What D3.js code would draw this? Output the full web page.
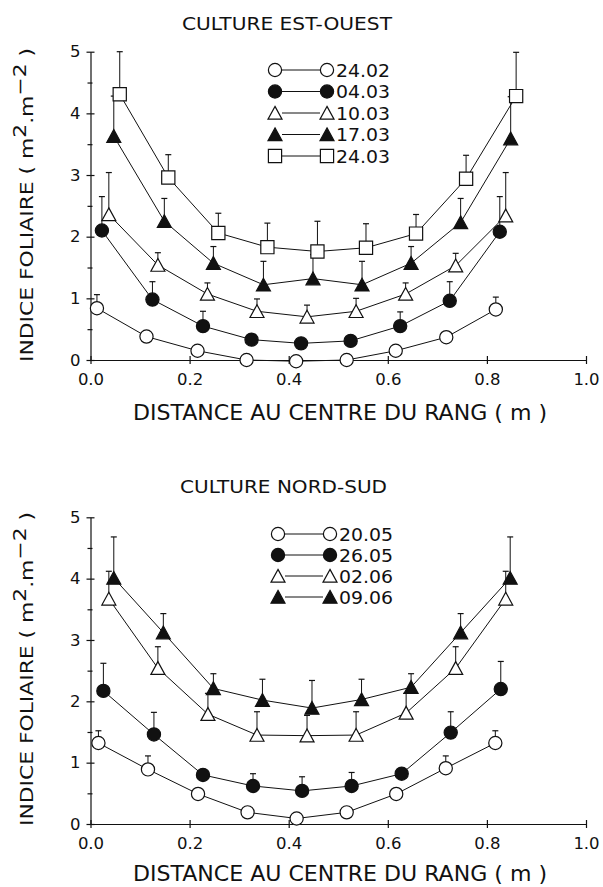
<!DOCTYPE html>
<html>
<head>
<meta charset="utf-8">
<script src="https://cdn.jsdelivr.net/npm/d3@7"></script>
<style>
  body { margin: 0; background: #fff; }
  text { font-family: "DejaVu Sans", sans-serif; fill: #111; }
</style>
</head>
<body>
<div id="chart"></div>
<script>
// Axis ticks
const xTicks = [0, 0.2, 0.4, 0.6, 0.8, 1.0]
const yTicks = [0, 1, 2, 3, 4, 5]
const yMinor = [0.5, 1.5, 2.5, 3.5, 4.5]

// Culture est-ouest: distance (m), leaf area index, error bar length
const eoTitle = 'CULTURE EST-OUEST'
const eoDates = ['24.02', '04.03', '10.03', '17.03', '24.03']
const eoDist = [
  [0.013, 0.113, 0.216, 0.315, 0.415, 0.517, 0.616, 0.718, 0.818],
  [0.023, 0.125, 0.227, 0.325, 0.425, 0.525, 0.625, 0.725, 0.826],
  [0.037, 0.136, 0.236, 0.336, 0.437, 0.536, 0.636, 0.737, 0.838],
  [0.047, 0.149, 0.248, 0.349, 0.449, 0.548, 0.647, 0.747, 0.848],
  [0.059, 0.157, 0.258, 0.357, 0.458, 0.556, 0.657, 0.758, 0.859]
]
const eoLai = [
  [0.84, 0.38, 0.15, 0.0, -0.02, 0.0, 0.15, 0.37, 0.82],
  [2.10, 0.98, 0.55, 0.33, 0.27, 0.31, 0.55, 0.96, 2.08],
  [2.36, 1.54, 1.07, 0.79, 0.70, 0.79, 1.07, 1.53, 2.34],
  [3.63, 2.25, 1.57, 1.22, 1.32, 1.22, 1.57, 2.23, 3.59],
  [4.31, 2.96, 2.06, 1.83, 1.76, 1.82, 2.05, 2.94, 4.28]
]
const eoErr = [
  [0.22, 0, 0, 0, 0, 0, 0, 0, 0.20],
  [0.55, 0.29, 0.24, 0, 0, 0, 0.23, 0.31, 0.57],
  [0.68, 0.20, 0.18, 0.20, 0.19, 0.21, 0.18, 0.20, 0.70],
  [0.65, 0.37, 0.27, 0.38, 0.39, 0.38, 0.27, 0.39, 0.68],
  [0.69, 0.37, 0.32, 0.39, 0.49, 0.39, 0.31, 0.38, 0.71]
]

// Culture nord-sud
const nsTitle = 'CULTURE NORD-SUD'
const nsDates = ['20.05', '26.05', '02.06', '09.06']
const nsDist = [
  [0.016, 0.116, 0.217, 0.317, 0.416, 0.517, 0.617, 0.717, 0.817],
  [0.026, 0.128, 0.227, 0.328, 0.427, 0.527, 0.628, 0.727, 0.828],
  [0.037, 0.136, 0.237, 0.336, 0.437, 0.536, 0.637, 0.737, 0.838],
  [0.047, 0.147, 0.248, 0.347, 0.447, 0.547, 0.647, 0.747, 0.847]
]
const nsLai = [
  [1.32, 0.89, 0.49, 0.19, 0.09, 0.19, 0.49, 0.91, 1.32],
  [2.17, 1.46, 0.80, 0.62, 0.54, 0.62, 0.82, 1.49, 2.20],
  [3.67, 2.54, 1.79, 1.45, 1.44, 1.45, 1.81, 2.54, 3.67],
  [4.01, 3.12, 2.21, 2.02, 1.89, 2.03, 2.23, 3.12, 4.01]
]
const nsErr = [
  [0.20, 0.22, 0, 0, 0, 0, 0, 0.20, 0.20],
  [0.45, 0.36, 0, 0.20, 0.23, 0.22, 0, 0.34, 0.45],
  [0.45, 0.35, 0.34, 0.38, 0.33, 0.38, 0.32, 0.35, 0.45],
  [0.67, 0.31, 0.24, 0.34, 0.45, 0.33, 0.22, 0.31, 0.67]
]

const xTitle = 'DISTANCE AU CENTRE DU RANG ( m )'

// Marker kinds, in series order
const kinds = ['circle-open', 'circle-fill', 'tri-open', 'tri-fill', 'square-open']

const svg = d3.select('#chart').append('svg')
  .attr('width', 603)
  .attr('height', 887)

const x = d3.scaleLinear().domain([0, 1]).range([90.5, 586])

function markerPath(kind) {
  if (kind.startsWith('circle')) return d3.symbol(d3.symbolCircle, Math.PI * 6.6 * 6.6)()
  if (kind.startsWith('tri')) return 'M0,-6.6L7,6.2L-7,6.2Z'
  return 'M-6.6,-6.6h13.2v13.2h-13.2Z'
}

function addMarker(g, kind, cx, cy) {
  g.append('path')
    .attr('d', markerPath(kind))
    .attr('transform', `translate(${cx},${cy})`)
    .attr('fill', kind.endsWith('fill') ? '#111' : '#fff')
    .attr('stroke', '#111')
    .attr('stroke-width', 1.2)
}

function drawPanel(p) {
  const y = d3.scaleLinear().domain([0, 5]).range([p.bottom, p.top])
  const g = svg.append('g')

  // title
  g.append('text')
    .attr('x', p.titleX).attr('y', p.titleY)
    .attr('font-size', 18)
    .attr('textLength', p.titleLen)
    .attr('lengthAdjust', 'spacingAndGlyphs')
    .text(p.title)

  // axes
  const xAxis = g.append('g')
    .attr('transform', `translate(0,${p.bottom})`)
    .call(d3.axisBottom(x).tickValues(xTicks).tickFormat(d3.format('.1f')).tickSize(4).tickSizeOuter(0))
  xAxis.selectAll('.tick line').attr('y1', -4)
  xAxis.selectAll('.tick text').attr('y', 25).attr('dy', 0)

  const yAxis = g.append('g')
    .attr('transform', `translate(${x(0)},0)`)
    .call(d3.axisLeft(y).tickValues(yTicks).tickFormat(d3.format('d')).tickSize(4).tickSizeOuter(0))
  yAxis.selectAll('.tick line').attr('x1', 4)
  yAxis.selectAll('.tick text').attr('x', -10)

  const yMin = g.append('g')
    .attr('transform', `translate(${x(0)},0)`)
    .call(d3.axisLeft(y).tickValues(yMinor).tickSize(3).tickFormat(''))
  yMin.select('.domain').remove()
  yMin.selectAll('.tick line').attr('x1', 2)

  g.selectAll('.domain, .tick line').attr('stroke', '#111').attr('stroke-width', 1.2)
  g.selectAll('.tick text')
    .attr('font-size', 16.5)
    .attr('font-family', '"DejaVu Sans", sans-serif')
    .attr('fill', '#111')

  // axis titles
  g.append('text')
    .attr('x', 133).attr('y', p.bottom + p.xTitleGap)
    .attr('font-size', 21)
    .attr('textLength', 414)
    .attr('lengthAdjust', 'spacingAndGlyphs')
    .text(xTitle)

  const yt = g.append('text')
    .attr('transform', `translate(33,${p.yTitleMid}) rotate(-90)`)
    .attr('text-anchor', 'middle')
    .attr('font-size', 17.5)
    .attr('textLength', 314)
    .attr('lengthAdjust', 'spacingAndGlyphs')
  yt.append('tspan').text('INDICE FOLIAIRE ( m')
  yt.append('tspan').attr('dy', -7).text('2')
  yt.append('tspan').attr('dy', 7).text('.m')
  yt.append('tspan').attr('dy', -7).text('\u22122')
  yt.append('tspan').attr('dy', 7).text(' )')

  const series = p.dist.map((row, i) => row.map((d, j) => ({ x: d, v: p.lai[i][j], e: p.err[i][j] })))

  const line = d3.line().x(d => x(d.x)).y(d => y(d.v))
  series.forEach(s => {
    g.append('path').datum(s)
      .attr('d', line)
      .attr('fill', 'none')
      .attr('stroke', '#111')
      .attr('stroke-width', 1)
  })

  // error bars, upper side only
  series.forEach(s => {
    s.filter(d => d.e > 0).forEach(d => {
      const cx = x(d.x), top = y(d.v + d.e)
      g.append('line')
        .attr('x1', cx).attr('x2', cx)
        .attr('y1', y(d.v)).attr('y2', top)
        .attr('stroke', '#111').attr('stroke-width', 1)
      g.append('line')
        .attr('x1', cx - 3).attr('x2', cx + 3)
        .attr('y1', top).attr('y2', top)
        .attr('stroke', '#111').attr('stroke-width', 1.2)
    })
  })

  series.forEach((s, i) => {
    s.forEach(d => addMarker(g, kinds[i], x(d.x), y(d.v)))
  })

  // legend
  p.dates.forEach((label, i) => {
    const ly = p.legY + i * p.legStep
    g.append('line')
      .attr('x1', p.legX + 7).attr('x2', p.legX + 45)
      .attr('y1', ly).attr('y2', ly)
      .attr('stroke', '#111').attr('stroke-width', 1)
    addMarker(g, kinds[i], p.legX, ly)
    addMarker(g, kinds[i], p.legX + 52, ly)
    g.append('text')
      .attr('x', p.legX + 61).attr('y', ly + 6.5)
      .attr('font-size', 17.5)
      .attr('textLength', 54)
      .attr('lengthAdjust', 'spacingAndGlyphs')
      .text(label)
  })
}

drawPanel({
  title: eoTitle, dates: eoDates, dist: eoDist, lai: eoLai, err: eoErr,
  top: 51.7, bottom: 360, titleX: 182, titleY: 29.5, titleLen: 210,
  yTitleMid: 205, legX: 275, legY: 70, legStep: 21.5, xTitleGap: 60
})

drawPanel({
  title: nsTitle, dates: nsDates, dist: nsDist, lai: nsLai, err: nsErr,
  top: 517.3, bottom: 824, titleX: 180, titleY: 493, titleLen: 207,
  yTitleMid: 669, legX: 278, legY: 534, legStep: 21, xTitleGap: 57
})
</script>
</body>
</html>
